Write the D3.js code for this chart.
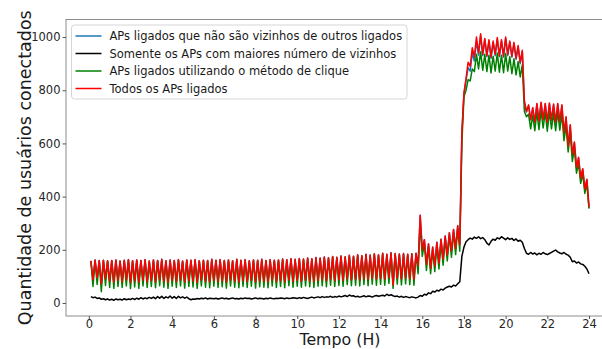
<!DOCTYPE html>
<html>
<head>
<meta charset="utf-8">
<script src="https://cdn.jsdelivr.net/npm/d3@7"></script>
<style>
  html, body { margin: 0; padding: 0; background: #fff; }
  svg { display: block; font-family: "DejaVu Sans", sans-serif; }
</style>
</head>
<body>
<svg id="chart" width="602" height="349"></svg>
<script>
// Sampling: one reading every 0.1 h, from 0.1 h to 24.0 h (240 samples)
const firstHour = 0.1;
const stepHours = 0.1;

const xTicks = [0, 2, 4, 6, 8, 10, 12, 14, 16, 18, 20, 22, 24];
const yTicks = [0, 200, 400, 600, 800, 1000];

const seriesNames = [
  "APs ligados que não são vizinhos de outros ligados",
  "Somente os APs com maiores número de vizinhos",
  "APs ligados utilizando o método de clique",
  "Todos os APs ligados"
];
const seriesColors = ["#1f77b4", "#000000", "#008000", "#ff0000"];

// Todos os APs ligados
const todos = [
  158,88,162,95,160,72,161,90,159,82,
  160,78,162,85,158,80,161,87,163,76,
  159,83,162,78,160,86,163,80,158,84,
  162,79,160,87,164,81,159,77,162,85,
  160,80,163,86,158,78,162,84,161,82,
  163,77,159,86,161,81,160,79,164,85,
  161,80,163,83,160,78,162,86,159,81,
  164,79,161,84,163,80,159,85,162,78,
  161,83,164,81,160,79,163,86,161,80,
  162,84,165,79,163,87,166,81,164,85,
  167,81,165,86,169,83,166,80,171,85,
  169,87,173,83,170,89,175,84,172,88,
  177,85,174,91,179,87,176,89,181,86,
  178,91,183,87,180,93,185,89,181,92,
  187,89,183,95,189,68,186,93,184,90,
  186,94,183,91,185,89,187,140,330,200,
  238,145,222,130,210,140,228,150,240,165,
  252,180,264,195,276,205,290,220,640,790,
  845,905,890,960,925,1000,940,1012,935,995,
  930,990,925,985,935,998,930,990,928,1000,
  935,985,928,980,920,968,905,950,760,720,
  745,690,735,680,750,685,755,690,750,680,
  752,688,748,680,750,682,745,640,700,590,
  670,560,605,510,548,470,505,430,465,360
];

// APs ligados que não são vizinhos de outros ligados
const naoVizinhos = [
  158,88,162,95,160,72,161,90,159,82,
  160,78,162,85,158,80,161,87,163,76,
  159,83,162,78,160,86,163,80,158,84,
  162,79,160,87,164,81,159,77,162,85,
  160,80,163,86,158,78,162,84,161,82,
  163,77,159,86,161,81,160,79,164,85,
  161,80,163,83,160,78,162,86,159,81,
  164,79,161,84,163,80,159,85,162,78,
  161,83,164,81,160,79,163,86,161,80,
  162,84,165,79,163,87,166,81,164,85,
  167,81,165,86,169,83,166,80,171,85,
  169,87,173,83,170,89,175,84,172,88,
  177,85,174,91,179,87,176,89,181,86,
  178,91,183,87,180,93,185,89,181,92,
  187,89,183,95,189,68,186,93,184,90,
  186,94,183,91,185,89,187,140,330,200,
  238,145,222,130,210,140,228,150,240,165,
  252,180,264,195,276,205,290,220,640,785,
  835,885,872,940,910,985,932,1005,930,990,
  926,985,920,980,930,992,926,985,924,995,
  930,980,924,975,916,962,900,945,755,718,
  742,688,732,678,748,682,752,688,748,678,
  750,685,745,678,748,680,742,638,698,588,
  668,558,603,508,546,468,503,428,463,358
];

// Somente os APs com maiores número de vizinhos
const maioresVizinhos = [
  24,20,22,17,19,14,16,12,15,11,
  14,10,15,12,14,11,16,12,15,13,
  17,13,18,14,20,15,19,16,21,17,
  22,16,24,18,25,17,23,19,26,18,
  24,17,25,19,23,18,22,16,12,15,
  14,17,15,18,16,19,15,18,17,16,
  18,15,17,19,16,18,15,17,19,16,
  17,15,18,16,19,17,18,15,17,19,
  16,18,17,15,18,16,19,17,16,18,
  17,19,18,16,19,17,18,20,19,17,
  20,18,21,19,17,20,22,19,21,23,
  20,24,21,23,22,25,21,24,22,26,
  23,25,28,24,30,26,27,23,25,22,
  24,27,23,26,25,22,26,28,25,27,
  29,26,33,28,31,27,24,26,22,25,
  21,24,22,20,23,21,19,22,28,25,
  33,30,38,35,44,41,48,45,52,49,
  56,60,63,60,67,64,72,80,175,210,
  230,238,244,240,248,243,249,242,246,238,
  225,218,232,240,236,245,241,249,244,238,
  245,239,243,235,241,232,236,228,205,187,
  183,190,184,188,181,187,183,190,185,182,
  186,190,195,199,192,188,185,190,183,180,
  172,155,158,150,154,147,145,138,128,110
];

// APs ligados utilizando o método de clique
const clique = [
  155,62,158,70,157,42,158,66,156,58,
  157,55,159,62,155,58,158,64,160,54,
  156,60,159,55,157,64,160,58,155,62,
  159,57,157,65,161,59,156,55,159,63,
  157,58,160,64,155,56,159,62,158,60,
  160,55,156,64,158,59,157,57,161,63,
  158,58,160,61,157,56,159,64,156,59,
  161,57,158,62,160,58,156,63,159,56,
  158,61,161,59,157,57,160,64,158,58,
  159,62,162,57,160,65,163,59,161,63,
  164,59,162,64,166,61,163,58,168,63,
  166,65,170,61,167,67,172,62,169,66,
  174,63,171,69,176,65,173,67,178,64,
  175,69,180,65,177,71,182,67,178,70,
  184,67,180,73,186,55,183,71,181,68,
  183,72,180,69,182,67,184,110,300,175,
  225,122,212,110,200,118,218,128,230,142,
  242,158,254,172,266,182,278,195,600,775,
  800,840,835,880,870,935,880,945,875,935,
  870,932,865,928,872,940,868,932,866,938,
  872,926,862,918,858,908,850,895,720,700,
  710,655,705,648,718,652,722,658,718,646,
  720,655,715,648,718,650,712,610,668,568,
  640,532,580,488,525,450,485,412,448,355
];

const seriesValues = [naoVizinhos, maioresVizinhos, clique, todos];

// Axes frame (the right edge runs past the canvas)
const plot = { left: 66, top: 19.5, bottom: 316, right: 613.9 };

const x = d3.scaleLinear().domain([-1.095, 25.195]).range([plot.left, plot.right]);
const y = d3.scaleLinear().domain([-49, 1066]).range([plot.bottom, plot.top]);

const svg = d3.select("#chart");
svg.append("rect").attr("width", 602).attr("height", 349).attr("fill", "#fff");

svg.append("defs").append("clipPath").attr("id", "plot-clip")
  .append("rect")
  .attr("x", plot.left).attr("y", plot.top)
  .attr("width", plot.right - plot.left).attr("height", plot.bottom - plot.top);

const line = d3.line()
  .x((d, i) => x(firstHour + i * stepHours))
  .y(d => y(d));

const lines = svg.append("g").attr("clip-path", "url(#plot-clip)");
seriesValues.forEach((vals, k) => {
  lines.append("path")
    .datum(vals)
    .attr("d", line)
    .attr("fill", "none")
    .attr("stroke", seriesColors[k])
    .attr("stroke-width", 1.5)
    .attr("stroke-linejoin", "round");
});

// Spines
svg.append("rect")
  .attr("x", plot.left).attr("y", plot.top)
  .attr("width", plot.right - plot.left).attr("height", plot.bottom - plot.top)
  .attr("fill", "none").attr("stroke", "#8c8c8c").attr("stroke-width", 1);

const xAxis = d3.axisBottom(x).tickValues(xTicks).tickSize(3).tickPadding(0.5).tickFormat(d3.format("d"));
const yAxis = d3.axisLeft(y).tickValues(yTicks).tickSize(3.5).tickPadding(2).tickFormat(d3.format("d"));

const gx = svg.append("g").attr("transform", `translate(0,${plot.bottom})`).call(xAxis);
const gy = svg.append("g").attr("transform", `translate(${plot.left},0)`).call(yAxis);
[gx, gy].forEach(g => {
  g.select(".domain").remove();
  g.selectAll("line").attr("stroke", "#555");
  g.selectAll("text").attr("fill", "#262626")
    .style("font-family", "'DejaVu Sans', sans-serif").style("font-size", "11.5px");
});

// Axis titles
svg.append("text")
  .attr("x", (plot.left + plot.right) / 2).attr("y", 345.2)
  .attr("text-anchor", "middle")
  .attr("fill", "#1a1a1a")
  .style("font-size", "15.8px")
  .text("Tempo (H)");

svg.append("text")
  .attr("transform", `translate(31,${(plot.top + plot.bottom) / 2}) rotate(-90)`)
  .attr("text-anchor", "middle")
  .attr("fill", "#1a1a1a")
  .style("font-size", "17.5px")
  .text("Quantidade de usuários conectados");

// Legend
const legend = svg.append("g").attr("transform", "translate(71.5,25)");
legend.append("rect")
  .attr("width", 335.5).attr("height", 74).attr("rx", 3)
  .attr("fill", "#fff").attr("fill-opacity", 0.85)
  .attr("stroke", "#d6d6d6").attr("stroke-width", 1);

seriesNames.forEach((name, k) => {
  const cy = 11 + k * 17.5;
  legend.append("line")
    .attr("x1", 4).attr("x2", 30).attr("y1", cy).attr("y2", cy)
    .attr("stroke", seriesColors[k]).attr("stroke-width", 1.5);
  legend.append("text")
    .attr("x", 38).attr("y", cy + 4.2)
    .attr("fill", "#1a1a1a")
    .style("font-size", "11.5px")
    .text(name);
});
</script>
</body>
</html>
